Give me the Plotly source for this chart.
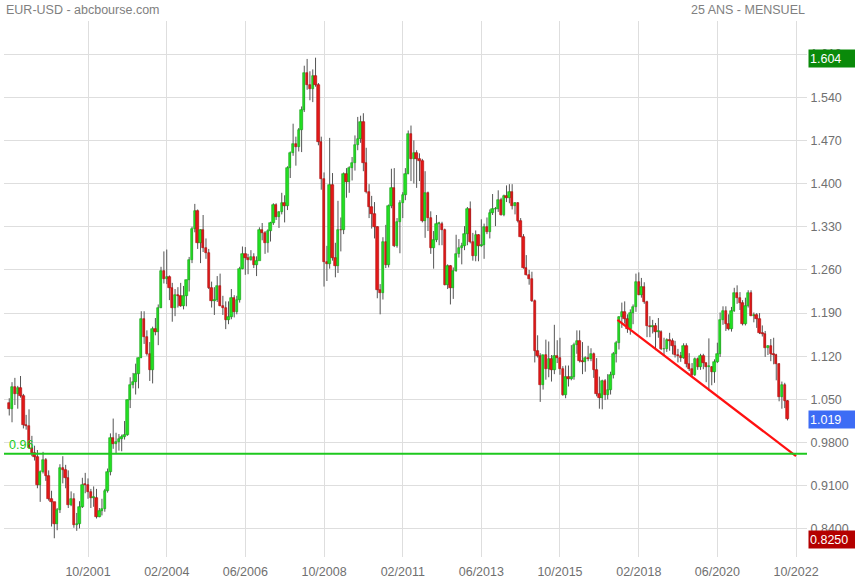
import pandas as pd
import plotly.graph_objects as go

# ---------------- DATA (monthly EUR-USD, Jun 1999 -> Jul 2022) ----------------
start_month = "1999-06-01"

opens = [
    1.044, 1.035, 1.070, 1.059, 1.068, 1.055, 1.009,
    1.007, 0.972, 0.964, 0.957, 0.911, 0.932, 0.952, 0.926, 0.888, 0.883, 0.848, 0.871,
    0.939, 0.936, 0.922, 0.879, 0.889, 0.847, 0.848, 0.876, 0.912, 0.911, 0.900, 0.890,
    0.890, 0.860, 0.869, 0.872, 0.901, 0.933, 0.987, 0.978, 0.981, 0.986, 0.989, 0.993,
    1.049, 1.074, 1.079, 1.091, 1.117, 1.180, 1.151, 1.124, 1.098, 1.165, 1.159, 1.199,
    1.259, 1.246, 1.248, 1.231, 1.198, 1.220, 1.217, 1.202, 1.217, 1.243, 1.276, 1.327,
    1.356, 1.303, 1.325, 1.296, 1.287, 1.230, 1.210, 1.212, 1.234, 1.202, 1.198, 1.179,
    1.184, 1.215, 1.192, 1.212, 1.262, 1.285, 1.279, 1.276, 1.281, 1.268, 1.275, 1.325,
    1.320, 1.303, 1.323, 1.336, 1.366, 1.345, 1.354, 1.368, 1.363, 1.426, 1.449, 1.464,
    1.459, 1.486, 1.519, 1.579, 1.560, 1.554, 1.575, 1.560, 1.467, 1.408, 1.273, 1.270,
    1.397, 1.280, 1.267, 1.325, 1.324, 1.415, 1.403, 1.425, 1.433, 1.463, 1.472, 1.500,
    1.433, 1.387, 1.362, 1.351, 1.329, 1.227, 1.223, 1.305, 1.268, 1.363, 1.393, 1.298,
    1.338, 1.369, 1.381, 1.416, 1.481, 1.439, 1.450, 1.439, 1.437, 1.339, 1.385, 1.344,
    1.296, 1.308, 1.334, 1.334, 1.324, 1.236, 1.266, 1.230, 1.258, 1.286, 1.296, 1.299,
    1.319, 1.358, 1.306, 1.282, 1.317, 1.299, 1.301, 1.330, 1.322, 1.353, 1.358, 1.359,
    1.374, 1.349, 1.380, 1.377, 1.387, 1.363, 1.369, 1.339, 1.313, 1.263, 1.252, 1.245,
    1.210, 1.129, 1.120, 1.073, 1.122, 1.099, 1.115, 1.098, 1.121, 1.118, 1.100, 1.057,
    1.086, 1.083, 1.087, 1.138, 1.145, 1.113, 1.110, 1.117, 1.115, 1.124, 1.098, 1.059,
    1.052, 1.080, 1.058, 1.065, 1.090, 1.124, 1.142, 1.184, 1.191, 1.181, 1.165, 1.190,
    1.200, 1.241, 1.219, 1.232, 1.208, 1.169, 1.168, 1.169, 1.160, 1.160, 1.131, 1.132,
    1.147, 1.145, 1.137, 1.122, 1.121, 1.117, 1.137, 1.108, 1.099, 1.090, 1.115, 1.102,
    1.121, 1.109, 1.103, 1.103, 1.095, 1.110, 1.123, 1.178, 1.194, 1.172, 1.165, 1.193,
    1.222, 1.214, 1.207, 1.173, 1.202, 1.223, 1.186, 1.187, 1.181, 1.158, 1.156, 1.134,
    1.137, 1.123, 1.122, 1.107, 1.054, 1.073, 1.048,
]
highs = [
    1.052, 1.078, 1.085, 1.072, 1.088, 1.059, 1.025,
    1.034, 0.991, 0.975, 0.968, 0.935, 0.965, 0.955, 0.935, 0.902, 0.884, 0.874, 0.945,
    0.958, 0.944, 0.935, 0.901, 0.898, 0.866, 0.885, 0.923, 0.931, 0.922, 0.905, 0.909,
    0.905, 0.874, 0.889, 0.905, 0.938, 0.995, 1.019, 0.996, 0.994, 0.993, 1.015, 1.050,
    1.086, 1.093, 1.108, 1.118, 1.193, 1.193, 1.162, 1.143, 1.168, 1.182, 1.204, 1.265,
    1.290, 1.293, 1.251, 1.239, 1.229, 1.232, 1.239, 1.234, 1.244, 1.281, 1.330, 1.367,
    1.358, 1.326, 1.349, 1.311, 1.294, 1.241, 1.232, 1.250, 1.254, 1.218, 1.209, 1.209,
    1.229, 1.219, 1.218, 1.265, 1.298, 1.297, 1.286, 1.292, 1.287, 1.282, 1.329, 1.336,
    1.323, 1.326, 1.338, 1.368, 1.368, 1.355, 1.385, 1.381, 1.428, 1.452, 1.497, 1.476,
    1.490, 1.525, 1.591, 1.602, 1.582, 1.585, 1.604, 1.563, 1.476, 1.418, 1.299, 1.474,
    1.417, 1.304, 1.372, 1.345, 1.418, 1.425, 1.428, 1.443, 1.478, 1.508, 1.510, 1.514,
    1.458, 1.399, 1.380, 1.370, 1.331, 1.237, 1.313, 1.333, 1.366, 1.424, 1.425, 1.344,
    1.373, 1.386, 1.425, 1.486, 1.494, 1.470, 1.454, 1.449, 1.440, 1.420, 1.387, 1.355,
    1.323, 1.349, 1.338, 1.338, 1.327, 1.269, 1.268, 1.264, 1.317, 1.310, 1.304, 1.331,
    1.362, 1.371, 1.320, 1.324, 1.318, 1.342, 1.335, 1.345, 1.358, 1.383, 1.362, 1.389,
    1.377, 1.382, 1.397, 1.399, 1.399, 1.370, 1.370, 1.344, 1.318, 1.284, 1.260, 1.257,
    1.212, 1.154, 1.125, 1.122, 1.147, 1.144, 1.122, 1.171, 1.146, 1.150, 1.104, 1.105,
    1.105, 1.138, 1.142, 1.162, 1.162, 1.143, 1.120, 1.137, 1.133, 1.126, 1.117, 1.087,
    1.082, 1.083, 1.091, 1.095, 1.127, 1.145, 1.185, 1.207, 1.209, 1.188, 1.196, 1.204,
    1.254, 1.256, 1.247, 1.240, 1.210, 1.185, 1.179, 1.174, 1.182, 1.162, 1.150, 1.149,
    1.158, 1.149, 1.145, 1.132, 1.127, 1.141, 1.141, 1.125, 1.109, 1.118, 1.118, 1.124,
    1.124, 1.110, 1.149, 1.104, 1.115, 1.142, 1.191, 1.201, 1.201, 1.188, 1.200, 1.231,
    1.235, 1.224, 1.211, 1.215, 1.227, 1.227, 1.191, 1.190, 1.190, 1.170, 1.161, 1.138,
    1.148, 1.150, 1.124, 1.109, 1.079, 1.077, 1.049,
]
lows = [
    1.024, 1.013, 1.041, 1.035, 1.053, 1.003, 1.001,
    0.970, 0.958, 0.951, 0.906, 0.884, 0.930, 0.918, 0.886, 0.844, 0.825, 0.838, 0.866,
    0.914, 0.906, 0.874, 0.877, 0.842, 0.837, 0.841, 0.874, 0.898, 0.889, 0.874, 0.876,
    0.857, 0.859, 0.862, 0.868, 0.899, 0.927, 0.970, 0.962, 0.967, 0.966, 0.985, 0.991,
    1.036, 1.068, 1.058, 1.068, 1.117, 1.140, 1.121, 1.080, 1.076, 1.154, 1.138, 1.198,
    1.238, 1.237, 1.211, 1.176, 1.185, 1.199, 1.200, 1.196, 1.201, 1.225, 1.271, 1.321,
    1.294, 1.271, 1.289, 1.278, 1.229, 1.199, 1.187, 1.208, 1.201, 1.187, 1.164, 1.172,
    1.180, 1.183, 1.188, 1.207, 1.261, 1.252, 1.253, 1.275, 1.263, 1.250, 1.277, 1.308,
    1.286, 1.288, 1.306, 1.333, 1.341, 1.328, 1.350, 1.337, 1.357, 1.409, 1.445, 1.429,
    1.452, 1.451, 1.516, 1.552, 1.535, 1.532, 1.557, 1.462, 1.390, 1.233, 1.242, 1.262,
    1.275, 1.248, 1.255, 1.290, 1.318, 1.377, 1.385, 1.405, 1.421, 1.454, 1.466, 1.420,
    1.384, 1.344, 1.327, 1.311, 1.214, 1.188, 1.212, 1.263, 1.264, 1.360, 1.297, 1.296,
    1.287, 1.344, 1.373, 1.415, 1.404, 1.400, 1.393, 1.404, 1.337, 1.312, 1.323, 1.286,
    1.262, 1.305, 1.300, 1.300, 1.235, 1.229, 1.204, 1.213, 1.257, 1.280, 1.269, 1.292,
    1.300, 1.303, 1.275, 1.274, 1.274, 1.297, 1.278, 1.318, 1.311, 1.349, 1.331, 1.354,
    1.348, 1.347, 1.370, 1.368, 1.358, 1.350, 1.337, 1.313, 1.262, 1.251, 1.236, 1.208,
    1.110, 1.118, 1.046, 1.066, 1.082, 1.086, 1.079, 1.091, 1.109, 1.090, 1.056, 1.052,
    1.071, 1.081, 1.082, 1.124, 1.110, 1.091, 1.095, 1.112, 1.112, 1.085, 1.055, 1.035,
    1.034, 1.049, 1.050, 1.058, 1.084, 1.110, 1.131, 1.166, 1.173, 1.158, 1.155, 1.172,
    1.192, 1.219, 1.215, 1.205, 1.151, 1.151, 1.157, 1.130, 1.150, 1.130, 1.122, 1.127,
    1.129, 1.123, 1.118, 1.110, 1.111, 1.116, 1.102, 1.096, 1.088, 1.088, 1.098, 1.098,
    1.099, 1.078, 1.064, 1.073, 1.077, 1.109, 1.119, 1.171, 1.161, 1.162, 1.160, 1.192,
    1.205, 1.195, 1.170, 1.170, 1.199, 1.185, 1.175, 1.166, 1.156, 1.152, 1.119, 1.122,
    1.112, 1.107, 1.081, 1.047, 1.035, 1.036, 1.016,
]
closes = [
    1.035, 1.070, 1.059, 1.068, 1.055, 1.009, 1.007,
    0.972, 0.964, 0.957, 0.911, 0.932, 0.952, 0.926, 0.888, 0.883, 0.848, 0.871, 0.939,
    0.936, 0.922, 0.879, 0.889, 0.847, 0.848, 0.876, 0.912, 0.911, 0.900, 0.890, 0.890,
    0.860, 0.869, 0.872, 0.901, 0.933, 0.987, 0.978, 0.981, 0.986, 0.989, 0.993, 1.049,
    1.074, 1.079, 1.091, 1.117, 1.180, 1.151, 1.124, 1.098, 1.165, 1.159, 1.199, 1.259,
    1.246, 1.248, 1.231, 1.198, 1.220, 1.217, 1.202, 1.217, 1.243, 1.276, 1.327, 1.356,
    1.303, 1.325, 1.296, 1.287, 1.230, 1.210, 1.212, 1.234, 1.202, 1.198, 1.179, 1.184,
    1.215, 1.192, 1.212, 1.262, 1.285, 1.279, 1.276, 1.281, 1.268, 1.275, 1.325, 1.320,
    1.303, 1.323, 1.336, 1.366, 1.345, 1.354, 1.368, 1.363, 1.426, 1.449, 1.464, 1.459,
    1.486, 1.519, 1.579, 1.560, 1.554, 1.575, 1.560, 1.467, 1.408, 1.273, 1.270, 1.397,
    1.280, 1.267, 1.325, 1.324, 1.415, 1.403, 1.425, 1.433, 1.463, 1.472, 1.500, 1.433,
    1.387, 1.362, 1.351, 1.329, 1.227, 1.223, 1.305, 1.268, 1.363, 1.393, 1.298, 1.338,
    1.369, 1.381, 1.416, 1.481, 1.439, 1.450, 1.439, 1.437, 1.339, 1.385, 1.344, 1.296,
    1.308, 1.334, 1.334, 1.324, 1.236, 1.266, 1.230, 1.258, 1.286, 1.296, 1.299, 1.319,
    1.358, 1.306, 1.282, 1.317, 1.299, 1.301, 1.330, 1.322, 1.353, 1.358, 1.359, 1.374,
    1.349, 1.380, 1.377, 1.387, 1.363, 1.369, 1.339, 1.313, 1.263, 1.252, 1.245, 1.210,
    1.129, 1.120, 1.073, 1.122, 1.099, 1.115, 1.098, 1.121, 1.118, 1.100, 1.057, 1.086,
    1.083, 1.087, 1.138, 1.145, 1.113, 1.110, 1.117, 1.115, 1.124, 1.098, 1.059, 1.052,
    1.080, 1.058, 1.065, 1.090, 1.124, 1.142, 1.184, 1.191, 1.181, 1.165, 1.190, 1.200,
    1.241, 1.219, 1.232, 1.208, 1.169, 1.168, 1.169, 1.160, 1.160, 1.131, 1.132, 1.147,
    1.145, 1.137, 1.122, 1.121, 1.117, 1.137, 1.108, 1.099, 1.090, 1.115, 1.102, 1.121,
    1.109, 1.103, 1.103, 1.095, 1.110, 1.123, 1.178, 1.194, 1.172, 1.165, 1.193, 1.222,
    1.214, 1.207, 1.173, 1.202, 1.223, 1.186, 1.187, 1.181, 1.158, 1.156, 1.134, 1.137,
    1.123, 1.122, 1.107, 1.054, 1.073, 1.048, 1.019,
]

x_tick_dates = ["2001-10-01", "2004-02-01", "2006-06-01", "2008-10-01", "2011-02-01",
                "2013-06-01", "2015-10-01", "2018-02-01", "2020-06-01", "2022-10-01"]
x_tick_text = ["10/2001", "02/2004", "06/2006", "10/2008", "02/2011",
               "06/2013", "10/2015", "02/2018", "06/2020", "10/2022"]
y_tick_vals = [0.84, 0.91, 0.98, 1.05, 1.12, 1.19, 1.26, 1.33, 1.40, 1.47, 1.54, 1.61]
y_tick_text = ["0.8400", "0.9100", "0.9800", "1.050", "1.120", "1.190", "1.260",
               "1.330", "1.400", "1.470", "1.540", "1.610"]

support_level = 0.962
support_label = "0.96"
trend_dates = ["2017-06-15", "2022-10-01"]
trend_values = [1.179, 0.958]

max_label, last_label, min_label = "1.604", "1.019", "0.8250"
max_value, last_value, min_value = 1.604, 1.019, 0.825

# ---------------- FIGURE ----------------
dates = pd.date_range(start_month, periods=len(closes), freq="MS")

GREEN, GREEN_EDGE = "#22e022", "#14a014"
RED, RED_EDGE = "#e41818", "#a80c0c"

wx, wy = [], []
for d, h, l in zip(dates, highs, lows):
    wx += [d, d, None]
    wy += [l, h, None]

base = [min(o, c) for o, c in zip(opens, closes)]
height = [max(abs(c - o), 0.0015) for o, c in zip(opens, closes)]
up = [c >= o for o, c in zip(opens, closes)]
fill = [GREEN if u else RED for u in up]
edge = [GREEN_EDGE if u else RED_EDGE for u in up]

fig = go.Figure()
fig.add_trace(go.Scatter(x=wx, y=wy, mode="lines", line=dict(color="#555555", width=1),
                         hoverinfo="skip", showlegend=False, zorder=0))
fig.add_trace(go.Bar(x=dates, y=height, base=base, width=26 * 86400000,
                     marker=dict(color=fill, line=dict(color=edge, width=0.6)),
                     showlegend=False, zorder=1))
fig.add_trace(go.Scatter(x=trend_dates, y=trend_values, mode="lines",
                         line=dict(color="#ff1010", width=2.2), showlegend=False, zorder=2))

fig.add_shape(type="line", xref="paper", x0=0, x1=1, yref="y", y0=support_level, y1=support_level,
              line=dict(color="#1ec81e", width=2.2), layer="above")

font = "Arial, Liberation Sans, sans-serif"
fig.add_annotation(xref="paper", x=0, xanchor="left", xshift=3, yref="y", y=support_level,
                   yanchor="bottom", yshift=0, text=support_label, showarrow=False,
                   font=dict(family=font, size=12.5, color="#22cc22"))

for lab, val, col in [(max_label, max_value, "#0a8a0a"), (last_label, last_value, "#3d6cf5"),
                      (min_label, min_value, "#b40000")]:
    fig.add_annotation(xref="paper", x=1, xanchor="left", xshift=1, yref="y", y=val,
                       yanchor="middle", yshift=-1, text=lab, showarrow=False, align="left",
                       width=44, height=15, bgcolor=col, borderpad=1,
                       font=dict(family=font, size=12.5, color="white"))

fig.add_annotation(xref="paper", yref="paper", x=0, y=1, xanchor="left", yanchor="bottom",
                   xshift=0, yshift=2, text="EUR-USD - abcbourse.com", showarrow=False,
                   font=dict(family=font, size=12.5, color="#808080"))
fig.add_annotation(xref="paper", yref="paper", x=1, y=1, xanchor="right", yanchor="bottom",
                   xshift=0, yshift=2, text="25 ANS - MENSUEL", showarrow=False,
                   font=dict(family=font, size=12.5, color="#808080"))

fig.update_layout(
    width=855, height=580, margin=dict(l=4, r=48, t=21, b=23, autoexpand=False),
    paper_bgcolor="white", plot_bgcolor="white", bargap=0,
    font=dict(family=font, size=12.5, color="#707070"),
    xaxis=dict(type="date", range=["1999-04-05", "2023-01-28"], tickvals=x_tick_dates,
               ticktext=x_tick_text, showgrid=True, gridcolor="#dedede", gridwidth=1,
               showline=True, linecolor="#dedede", mirror=True, ticks="", zeroline=False,
               automargin=False, ticklabelstandoff=3, tickfont=dict(size=12.5, color="#707070")),
    yaxis=dict(range=[0.7946, 1.6635], side="right", tickvals=y_tick_vals, ticktext=y_tick_text,
               showgrid=True, gridcolor="#dedede", gridwidth=1, showline=True, linecolor="#dedede",
               mirror=True, ticks="", zeroline=False, automargin=False,
               tickfont=dict(size=12.5, color="#707070")),
    hovermode=False,
)

fig.write_html("out.html", config={"displayModeBar": False},
               post_script="document.body.style.margin='0';document.body.style.overflow='hidden';")
